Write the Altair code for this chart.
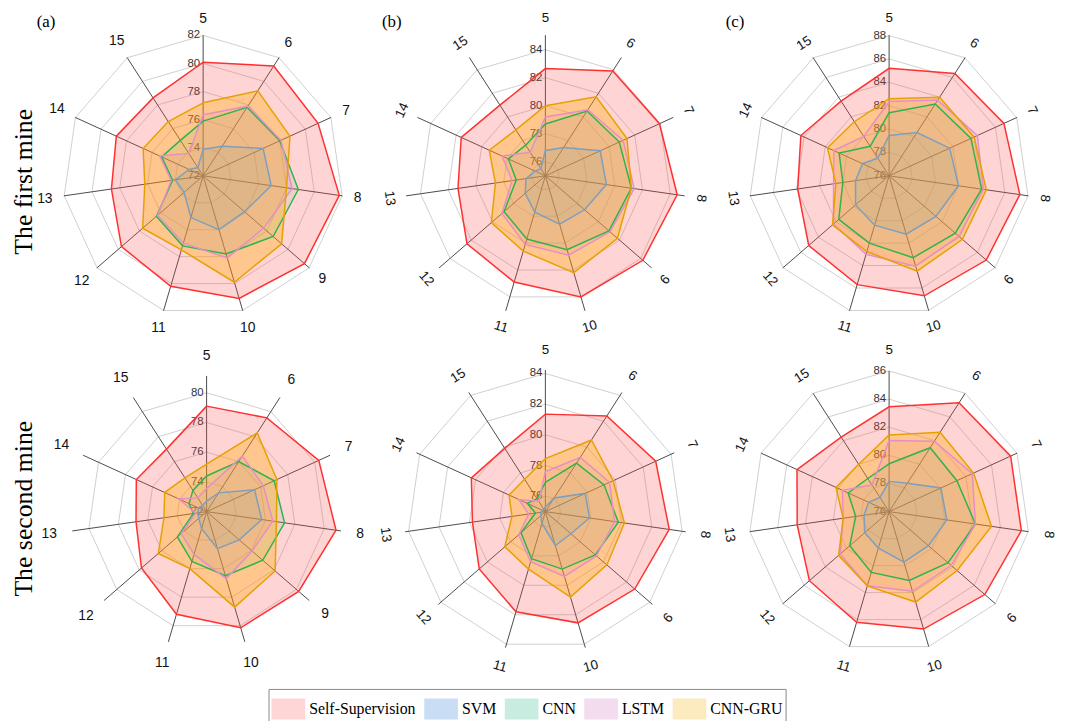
import altair as alt
import pandas as pd

SERIES = ["Self-Supervision", "SVM", "CNN", "LSTM", "CNN-GRU"]
AXIS_LABELS = ["5", "6", "7", "8", "9", "10", "11", "12", "13", "14", "15"]

# ---- The first mine ----
m1a_ss = [80.1, 81.3, 81.0, 81.8, 81.55, 81.1, 80.2, 79.7, 78.6, 78.8, 78.6]
m1a_svm = [73.9, 74.5, 76.7, 76.9, 75.9, 76.0, 75.1, 73.8, 74.0, 73.1, 72.7]
m1a_cnn = [75.9, 77.8, 78.0, 78.85, 78.6, 77.8, 77.2, 76.4, 74.2, 75.25, 75.0]
m1a_lstm = [76.35, 77.9, 78.1, 78.4, 77.7, 78.1, 77.0, 76.3, 74.3, 75.4, 73.9]
m1a_gru = [77.2, 79.2, 78.8, 78.0, 79.4, 79.9, 77.5, 77.7, 76.2, 76.7, 76.6]

m1b_ss = [82.65, 83.9, 83.95, 84.5, 84.2, 84.0, 82.9, 82.4, 81.3, 81.6, 81.0]
m1b_svm = [76.8, 77.4, 79.3, 79.4, 78.7, 78.6, 77.7, 76.9, 76.4, 75.8, 75.6]
m1b_cnn = [78.7, 80.5, 80.8, 81.2, 81.0, 80.5, 79.7, 78.9, 77.1, 77.9, 77.6]
m1b_lstm = [79.2, 80.6, 81.1, 81.4, 81.1, 80.9, 80.1, 79.1, 77.4, 78.4, 77.0]
m1b_gru = [80.0, 81.7, 81.4, 81.2, 81.8, 82.2, 80.6, 80.1, 78.6, 79.4, 78.9]

m1c_ss = [85.2, 86.4, 86.8, 87.3, 87.0, 86.7, 85.7, 85.1, 83.9, 84.3, 83.6]
m1c_svm = [79.45, 80.4, 81.7, 82.0, 81.3, 81.2, 80.4, 79.8, 78.9, 78.5, 77.8]
m1c_cnn = [81.4, 83.3, 83.7, 84.0, 83.5, 83.3, 82.0, 81.7, 80.0, 80.7, 79.0]
m1c_lstm = [82.35, 83.7, 84.3, 84.15, 83.9, 84.05, 83.0, 82.3, 80.8, 81.2, 80.0]
m1c_gru = [82.6, 84.0, 84.0, 84.4, 84.3, 84.5, 82.75, 82.4, 80.6, 81.8, 81.5]

# ---- The second mine ----
m2a_ss = [79.1, 79.5, 80.3, 80.8, 80.2, 80.15, 79.2, 77.8, 76.8, 77.2, 77.0]
m2a_svm = [72.7, 73.5, 75.55, 75.75, 74.9, 74.6, 73.2, 72.7, 72.6, 72.6, 72.5]
m2a_cnn = [74.4, 76.0, 77.0, 77.3, 77.0, 76.5, 75.5, 74.6, 72.9, 73.3, 73.7]
m2a_lstm = [73.55, 76.45, 76.2, 76.5, 76.05, 76.7, 75.0, 74.25, 72.75, 74.05, 73.1]
m2a_gru = [75.2, 78.3, 77.2, 76.75, 78.1, 78.7, 76.0, 76.3, 74.9, 75.1, 74.7]

m2b_ss = [81.35, 82.4, 82.9, 83.15, 82.7, 82.55, 81.8, 80.7, 79.8, 80.3, 79.9]
m2b_svm = [75.3, 76.05, 77.85, 77.9, 77.2, 77.3, 75.8, 75.4, 75.3, 75.2, 75.2]
m2b_cnn = [76.9, 78.75, 79.2, 79.8, 79.3, 78.9, 78.2, 77.1, 75.65, 76.3, 76.0]
m2b_lstm = [77.6, 79.2, 79.6, 79.55, 79.4, 79.4, 78.4, 77.3, 76.1, 76.9, 75.8]
m2b_gru = [78.45, 80.55, 79.85, 80.2, 80.3, 80.8, 78.9, 78.5, 77.2, 77.6, 77.5]

m2c_ss = [83.45, 85.2, 85.5, 85.5, 85.0, 84.7, 84.2, 83.5, 82.6, 83.2, 82.3]
m2c_svm = [78.15, 78.4, 80.05, 80.15, 79.7, 79.75, 78.7, 78.3, 77.8, 77.6, 77.2]
m2c_cnn = [79.4, 81.4, 81.3, 82.2, 81.55, 81.1, 80.5, 79.7, 78.4, 79.2, 78.8]
m2c_lstm = [81.05, 81.95, 82.5, 82.2, 81.85, 81.9, 81.5, 80.6, 79.3, 79.65, 78.25]
m2c_gru = [81.45, 82.7, 82.6, 83.35, 82.4, 82.7, 81.5, 80.75, 79.3, 80.15, 80.0]

# radial tick labels of each panel
ticks_1a = [72, 74, 76, 78, 80, 82]
ticks_1b = [76, 78, 80, 82, 84]
ticks_1c = [76, 78, 80, 82, 84, 86, 88]
ticks_2a = [72, 74, 76, 78, 80]
ticks_2b = [76, 78, 80, 82, 84]
ticks_2c = [76, 78, 80, 82, 84, 86]

ROW_TITLES = ["The first mine", "The second mine"]
LETTERS = ["(a)", "(b)", "(c)"]

# ---- styles ----
LINE_COLOR = {"Self-Supervision": "#ff3030", "SVM": "#7d9fbd", "CNN": "#2eb34f",
              "LSTM": "#e48fc6", "CNN-GRU": "#e6a100"}
FILL_COLOR = {"Self-Supervision": "#ff4d4d", "SVM": "#5b9bd5", "CNN": "#5cc08a",
              "LSTM": "#e57ad6", "CNN-GRU": "#ffaa00"}
FILL_OPACITY = {"Self-Supervision": 0.24, "SVM": 0.18, "CNN": 0.15,
                "LSTM": 0.15, "CNN-GRU": 0.33}
SWATCH = ["#ffd6d6", "#c9def5", "#c8ece0", "#f2dcee", "#fdebc0"]

N = len(AXIS_LABELS)
ANG = f"datum.i * 2 * PI / {N}"


def long_table(vals):
    rows = []
    for s in SERIES:
        for i, v in enumerate(vals[s]):
            rows.append({"series": s, "i": i, "v": v})
    return pd.DataFrame(rows)


def panel(vals, ticks, c0, k, spoke, lab_r0, rotate, width, xdom, height, ydom,
          notes=(), legend=None, lab_size=14):
    xs = alt.Scale(domain=xdom, nice=False, zero=False)
    ys = alt.Scale(domain=ydom, nice=False, zero=False)

    def X(f):
        return alt.X(f, type="quantitative", scale=xs, axis=None)

    def Y(f):
        return alt.Y(f, type="quantitative", scale=ys, axis=None)

    layers = []
    # grid rings
    ring_rows = [{"t": t, "i": i} for t in ticks if t > c0 for i in range(N)]
    rings = alt.Chart(pd.DataFrame(ring_rows)).transform_calculate(
        r=f"(datum.t - {c0}) * {k}"
    ).transform_calculate(
        px=f"datum.r * sin({ANG})", py=f"datum.r * cos({ANG})"
    ).mark_line(interpolate="linear-closed", stroke="#cfcfcf", strokeWidth=1).encode(
        x=X("px"), y=Y("py"), detail="t:N", order="i:Q")
    layers.append(rings)
    # spokes
    spokes = alt.Chart(pd.DataFrame({"i": list(range(N))})).transform_calculate(
        zero="0", ex=f"{spoke} * sin({ANG})", ey=f"{spoke} * cos({ANG})"
    ).mark_rule(stroke="#4a4a4a", strokeWidth=1).encode(
        x=X("zero"), y=Y("zero"), x2="ex:Q", y2="ey:Q")
    layers.append(spokes)
    # radial tick labels
    tdf = pd.DataFrame({"t": ticks, "lab": [str(t) for t in ticks]})
    tlab = alt.Chart(tdf).transform_calculate(
        zero="0", ty=f"(datum.t - {c0}) * {k}"
    ).mark_text(align="right", baseline="middle", dx=-3, font="Liberation Sans",
                fontSize=11.5, color="#333333").encode(x=X("zero"), y=Y("ty"), text="lab:N")
    layers.append(tlab)
    if legend is not None:
        helper = alt.Chart(pd.DataFrame({"series": SERIES})).transform_calculate(
            zero="0"
        ).mark_point(filled=True, size=0, shape="square").encode(
            x=X("zero"), y=Y("zero"),
            fill=alt.Fill("series:N", scale=alt.Scale(domain=SERIES, range=SWATCH),
                          legend=legend))
        layers.append(helper)
    data = long_table(vals)
    base = alt.Chart(data).transform_calculate(
        r=f"(datum.v - {c0}) * {k}"
    ).transform_calculate(
        px=f"datum.r * sin({ANG})", py=f"datum.r * cos({ANG})"
    )
    for s in SERIES:
        layers.append(base.transform_filter(alt.datum.series == s).mark_line(
            interpolate="linear-closed", fill=FILL_COLOR[s], fillOpacity=FILL_OPACITY[s],
            strokeWidth=0).encode(x=X("px"), y=Y("py"), order="i:Q"))
    for s in SERIES:
        layers.append(base.transform_filter(alt.datum.series == s).mark_line(
            interpolate="linear-closed", stroke=LINE_COLOR[s], strokeWidth=1.5).encode(
            x=X("px"), y=Y("py"), order="i:Q"))
    # category labels: anchored just outside the spoke end, pushed out by half the text extent
    h2 = 0.36 * lab_size
    if rotate:
        rad = f"{lab_r0} + {h2}"
    else:
        rad = (f"{lab_r0} + abs(sin({ANG})) * length(datum.lab) * {0.278 * lab_size}"
               f" + abs(cos({ANG})) * {h2}")
    ldf = pd.DataFrame({"i": list(range(N)), "lab": AXIS_LABELS})
    lab = alt.Chart(ldf).transform_calculate(
        deg=f"datum.i * 360 / {N}", rr=rad
    ).transform_calculate(
        lx=f"datum.rr * sin({ANG})", ly=f"datum.rr * cos({ANG})",
        rot="(datum.deg <= 135 ? datum.deg : (datum.deg < 270 ? datum.deg - 180 : datum.deg - 360)) + 360"
    ).transform_calculate(rot2="datum.rot % 360")
    enc = dict(x=X("lx"), y=Y("ly"), text="lab:N")
    if rotate:
        enc["angle"] = alt.Angle("rot2:Q", scale=None)
    lab = lab.mark_text(align="center", baseline="middle", font="Liberation Sans",
                        fontSize=lab_size, color="#111111").encode(**enc)
    layers.append(lab)
    # captions (panel letter, row title)
    for text, xd, yd, props in notes:
        layers.append(alt.Chart(pd.DataFrame({"t": [text]})).mark_text(**props).encode(
            x=alt.X(datum=xd, type="quantitative", scale=xs, axis=None),
            y=alt.Y(datum=yd, type="quantitative", scale=ys, axis=None),
            text="t:N"))
    return alt.layer(*layers).properties(width=width, height=height)


def vals_of(ss, svm, cnn, lstm, gru):
    return dict(zip(SERIES, [ss, svm, cnn, lstm, gru]))


LETTER_STYLE = dict(align="left", baseline="alphabetic", font="Liberation Serif",
                    fontSize=17, color="#000000")
ROW_STYLE = dict(align="center", baseline="alphabetic", angle=270, font="Liberation Serif",
                 fontSize=26, color="#000000")

legend = alt.Legend(
    title=None, orient="none", legendX=239, legendY=680, direction="horizontal",
    columns=5, symbolType="M-1,-0.62H1V0.62H-1Z", symbolSize=34 * 34,
    symbolOpacity=1, symbolStrokeWidth=0, labelFont="Liberation Serif",
    labelFontSize=16, labelColor="#000000", labelOffset=4, columnPadding=8.25,
    padding=3, strokeColor="#888888", fillColor="#ffffff", labelLimit=0)

W = [346, 347, 337]
XD1 = [[-173, 173], [-172.5, 174.5], [-172.5, 164.5]]
XD2 = [[-176.5, 169.5], [-172.5, 174.5], [-172.5, 164.5]]
H1, YD1 = 337, [-175, 162]
H2, YD2 = 358, [-194, 164]

p1a = panel(vals_of(m1a_ss, m1a_svm, m1a_cnn, m1a_lstm, m1a_gru), ticks_1a, 72, 14.17, 142, 153,
            False, W[0], XD1[0], H1, YD1, legend=legend,
            notes=[(LETTERS[0], -168, 150, LETTER_STYLE),
                   (ROW_TITLES[0], -172.5, -6, ROW_STYLE)])
p1b = panel(vals_of(m1b_ss, m1b_svm, m1b_cnn, m1b_lstm, m1b_gru), ticks_1b, 75, 14.15, 142, 154,
            True, W[1], XD1[1], H1, YD1, lab_size=13.5,
            notes=[(LETTERS[1], -165, 150, LETTER_STYLE)])
p1c = panel(vals_of(m1c_ss, m1c_svm, m1c_cnn, m1c_lstm, m1c_gru), ticks_1c, 76, 11.8, 142, 154,
            True, W[2], XD1[2], H1, YD1, lab_size=13.5,
            notes=[(LETTERS[2], -165, 150, LETTER_STYLE)])
p2a = panel(vals_of(m2a_ss, m2a_svm, m2a_cnn, m2a_lstm, m2a_gru), ticks_2a, 72, 15.0, 137, 152,
            False, W[0], XD2[0], H2, YD2,
            notes=[(ROW_TITLES[1], -176, 3, ROW_STYLE)])
p2b = panel(vals_of(m2b_ss, m2b_svm, m2b_cnn, m2b_lstm, m2b_gru), ticks_2b, 75, 15.5, 143, 158,
            True, W[1], XD2[1], H2, YD2, lab_size=13.5)
p2c = panel(vals_of(m2c_ss, m2c_svm, m2c_cnn, m2c_lstm, m2c_gru), ticks_2c, 76, 14.2, 142, 158,
            True, W[2], XD2[2], H2, YD2, lab_size=13.5)

chart = alt.concat(p1a, p1b, p1c, p2a, p2b, p2c, columns=3, spacing=0, bounds="flush").resolve_scale(
    x="independent", y="independent").properties(
    padding={"left": 3, "top": 0, "right": 0, "bottom": 0}).configure_view(strokeWidth=0)

chart.save("out.html", embed_options={"renderer": "svg", "actions": False})
